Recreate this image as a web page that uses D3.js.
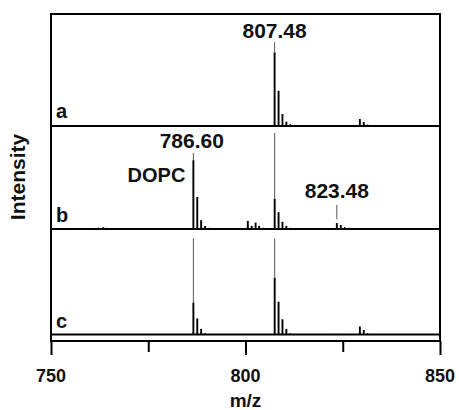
<!DOCTYPE html>
<html>
<head>
<meta charset="utf-8">
<script src="https://cdn.jsdelivr.net/npm/d3@7"></script>
<style>
  body { margin: 0; background: #fff; }
  text { font-family: "Liberation Sans", Arial, sans-serif; font-weight: bold; fill: #111; }
</style>
</head>
<body>
<div id="chart"></div>
<script>
// peak lists, m/z and relative intensity (0-100) per spectrum
const mzA  = [770.2, 791.5, 807.48, 808.5, 809.5, 810.5, 811.5, 815.3, 818.6, 821.0, 829.4, 830.4, 831.4, 834.0, 836.5, 845.0];
const intA = [1,     1,     92,     44,    15,    5.4,   2.5,   1,     1,     1.2,   8.7,   5,     1.8,   1,     1,     0.8];

const mzB  = [760.9, 762.2, 763.4, 764.1, 775.0, 786.6, 787.6, 788.6, 789.6, 790.6, 795.0, 800.6, 801.6, 802.6, 803.5, 804.6, 807.5, 808.5, 809.5, 810.5, 811.5, 815.5, 817.5, 819.5, 823.48, 824.5, 825.5, 826.6, 829.0, 831.0, 833.0, 835.5, 838.0, 848.0];
const intB = [1.5,   2,     2.5,   1.5,   1,     86,    40,    11,    3.7,   1.5,   1,     10,    4,     8,     4,     1.5,   38,    21,    9,     4,     1.5,   1,     1.2,   1,     7.5,    5,     2.5,   1.5,   1,     1.2,   1,     1,     1,     1];

const mzC  = [786.6, 787.6, 788.6, 789.6, 807.5, 808.5, 809.5, 810.5, 811.5, 823.0, 825.0, 829.4, 830.4, 831.4];
const intC = [40,    20,    7,     2,     71,    41,    19,    7,     2,     0.8,   0.8,   10,    5.6,   2];

const panelNames = ["a", "b", "c"];
const spectra = [[mzA, intA], [mzB, intB], [mzC, intC]];

// guide lines above peaks: [panel, m/z, start intensity, end intensity]
const guides = [
  [0, 807.48, 105, 92],
  [1, 786.6, 95, 86],
  [1, 807.5, 120, 38],
  [1, 823.48, 30, 12],
  [2, 786.6, 120, 40],
  [2, 807.5, 120, 71]
];
// peak labels: [panel, text, m/z, intensity level]
const peakLabels = [
  [0, "807.48", 807.48, 110],
  [1, "786.60", 786.2, 101.5],
  [1, "823.48", 823.48, 38.5]
];

const xTicks = [750, 775, 800, 825, 850];
const xTickLabels = [750, 800, 850];

const width = 459, height = 410;
const plot = {left: 51, right: 440, top: 14, bottom: 341};
const baselines = [126, 229, 334.5];

const svg = d3.select("#chart").append("svg")
  .attr("width", width)
  .attr("height", height);

const x = d3.scaleLinear().domain([750, 850]).range([plot.left, plot.right]);
const ys = baselines.map(b => d3.scaleLinear().domain([0, 100]).range([b, b - 80]));

// spectra
spectra.forEach((s, p) => {
  const pts = s[0].map((m, i) => ({mz: m, v: s[1][i]}));
  svg.append("g").selectAll("line")
    .data(pts)
    .enter().append("line")
    .attr("x1", d => x(d.mz)).attr("x2", d => x(d.mz))
    .attr("y1", ys[p](0)).attr("y2", d => ys[p](d.v))
    .attr("stroke", "#000")
    .attr("stroke-width", d => d.v > 3 ? 1.9 : 1.2);

  svg.append("line")
    .attr("x1", plot.left).attr("x2", plot.right)
    .attr("y1", ys[p](0)).attr("y2", ys[p](0))
    .attr("stroke", "#000").attr("stroke-width", 2);

  svg.append("text")
    .attr("x", 56)
    .attr("y", ys[p](0) - (p == 0 ? 8 : 7))
    .style("font-size", "20px")
    .text(panelNames[p]);
});

// guide lines
svg.append("g").selectAll("line")
  .data(guides)
  .enter().append("line")
  .attr("x1", d => x(d[1])).attr("x2", d => x(d[1]))
  .attr("y1", d => ys[d[0]](d[2])).attr("y2", d => ys[d[0]](d[3]))
  .attr("stroke", "#555")
  .attr("stroke-width", 1);

svg.append("g").selectAll("text")
  .data(peakLabels)
  .enter().append("text")
  .attr("x", d => x(d[2]))
  .attr("y", d => ys[d[0]](d[3]))
  .attr("text-anchor", "middle")
  .style("font-size", "21px")
  .text(d => d[1]);

svg.append("text")
  .attr("x", x(786.6) - 8)
  .attr("y", ys[1](59))
  .attr("text-anchor", "end")
  .style("font-size", "20px")
  .text("DOPC");

// frame
svg.append("rect")
  .attr("x", plot.left).attr("y", plot.top)
  .attr("width", plot.right - plot.left).attr("height", plot.bottom - plot.top)
  .attr("fill", "none")
  .attr("stroke", "#000")
  .attr("stroke-width", 2);

// x axis
const xAxis = d3.axisBottom(x)
  .tickValues(xTicks)
  .tickSize(0)
  .tickFormat("");
const ax = svg.append("g")
  .attr("transform", "translate(0," + plot.bottom + ")")
  .call(xAxis);
ax.select(".domain").remove();
ax.selectAll(".tick line")
  .attr("y2", d => xTickLabels.includes(d) ? 14 : 11)
  .attr("stroke", "#000")
  .attr("stroke-width", 2);

svg.append("g").selectAll("text")
  .data(xTickLabels)
  .enter().append("text")
  .attr("x", d => x(d))
  .attr("y", 382)
  .attr("text-anchor", "middle")
  .style("font-size", "18px")
  .text(d => d);

svg.append("text")
  .attr("x", (plot.left + plot.right) / 2)
  .attr("y", 407)
  .attr("text-anchor", "middle")
  .style("font-size", "19px")
  .text("m/z");

svg.append("text")
  .attr("transform", "translate(25," + 177 + ") rotate(-90)")
  .attr("text-anchor", "middle")
  .style("font-size", "21px")
  .text("Intensity");
</script>
</body>
</html>
